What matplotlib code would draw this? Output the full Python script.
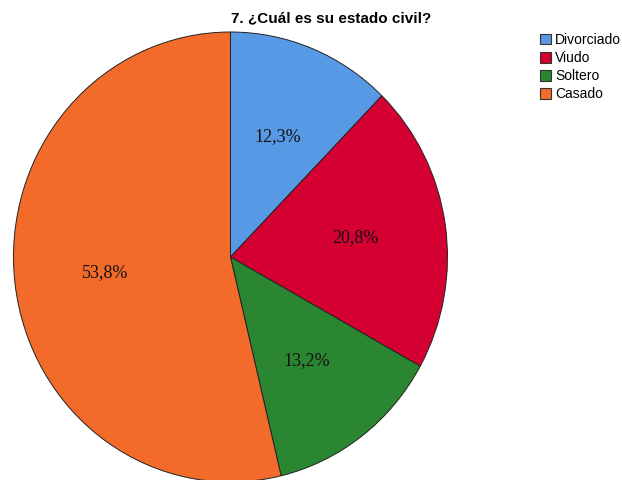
import matplotlib.pyplot as plt

categories = ["Divorciado", "Viudo", "Soltero", "Casado"]
percents = [12.3, 20.8, 13.2, 53.8]
colors = ["#5799E4", "#D50032", "#2A8630", "#F26B2B"]

W, H = 622, 480
CX, CY = 230.5, 257.0   # pie centre in pixels (from top-left)
RX, RY = 217.0, 225.0   # SPSS draws the pie slightly stretched

fig = plt.figure(figsize=(W / 100, H / 100), dpi=100)
ax = fig.add_axes([0, 0, 1, 1])

# show the reported values, not the recomputed shares (they add up to 100.1)
pct_iter = iter(percents)

wedges, texts, autotexts = ax.pie(
    percents,
    colors=colors,
    startangle=90,
    counterclock=False,
    autopct=lambda p: f"{next(pct_iter):.1f}%".replace(".", ","),
    pctdistance=0.58,
    wedgeprops=dict(edgecolor="#222222", linewidth=0.7),
    textprops=dict(family="Liberation Serif", fontsize=13, color="#111111"),
)

ax.set_aspect("auto")
ax.set_xlim(-CX / RX, (W - CX) / RX)
ax.set_ylim(-(H - CY) / RY, CY / RY)
ax.axis("off")

fig.text(331 / W, 1 - 18 / H, "7. ¿Cuál es su estado civil?",
         ha="center", va="center", fontsize=11, fontweight="bold",
         family="Liberation Sans")

leg = fig.legend(
    wedges, categories,
    loc="upper left", bbox_to_anchor=(540 / W, 1 - 33 / H),
    frameon=False, prop=dict(family="Liberation Sans", size=10),
    handlelength=0.8, handleheight=0.8, handletextpad=0.3,
    labelspacing=0.3, borderpad=0, borderaxespad=0,
)
for h in leg.legend_handles:
    h.set_edgecolor("#333333")
    h.set_linewidth(0.8)

fig.savefig("out.png", dpi=100)
